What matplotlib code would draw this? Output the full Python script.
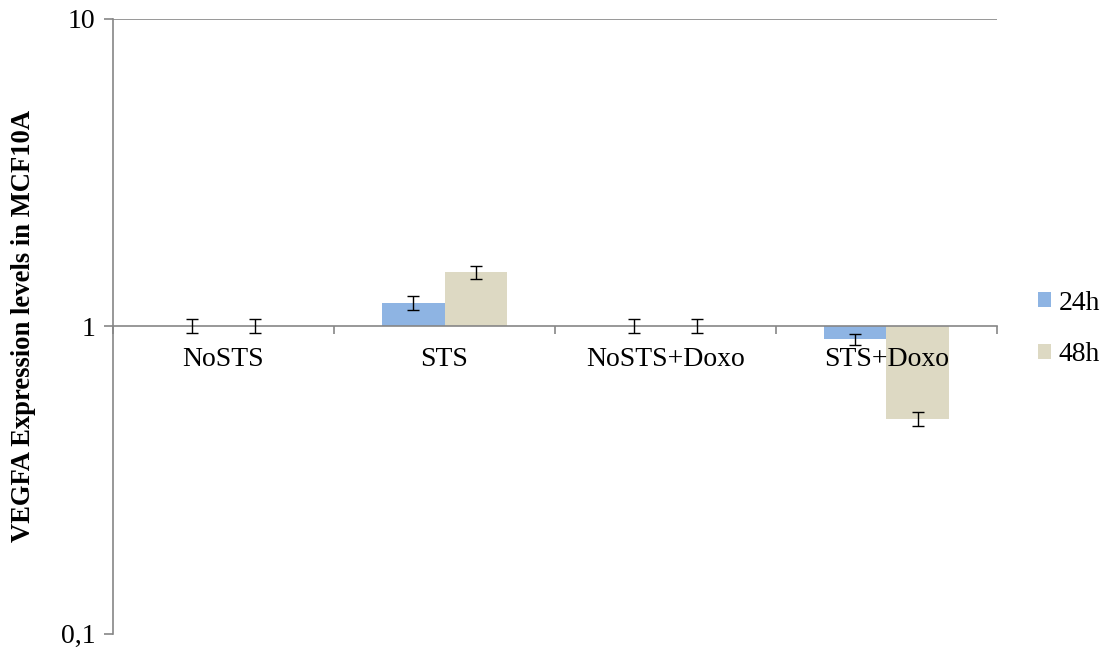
import matplotlib
matplotlib.use("Agg")
import matplotlib.pyplot as plt
from matplotlib.patches import Patch
from matplotlib.ticker import FixedLocator, FixedFormatter, NullFormatter
import numpy as np

# Expression data (fold change relative to control)
categories = ["NoSTS", "STS", "NoSTS+Doxo", "STS+Doxo"]
series_names = ["24h", "48h"]
values_24h = [1.0, 1.19, 1.0, 0.905]
values_48h = [1.0, 1.495, 1.0, 0.499]
err_24h = [0.05, 0.06, 0.05, 0.04]
err_48h = [0.05, 0.075, 0.05, 0.025]
y_ticks = [0.1, 1, 10]
y_tick_labels = ["0,1", "1", "10"]

colors = ["#8EB4E3", "#DDD9C3"]
axis_gray = "#868686"

plt.rcParams["font.family"] = ["Liberation Serif", "DejaVu Serif"]
FS = 20

W, H = 1110, 652
fig = plt.figure(figsize=(W / 100, H / 100), dpi=100)
ax = fig.add_axes([113 / W, 1 - 633.5 / H, (997 - 113) / W, (633.5 - 18.5) / H])
ax.set_axisbelow(False)

ax.set_yscale("log")
ax.set_ylim(0.1, 10)
ax.set_xlim(-0.5, len(categories) - 0.5)

x = np.arange(len(categories))
bw = 0.283
for vals, errs, col, off in [(values_24h, err_24h, colors[0], -bw / 2),
                             (values_48h, err_48h, colors[1], bw / 2)]:
    v = np.array(vals)
    ax.bar(x + off, v - 1, bottom=1, width=bw, color=col, edgecolor="none", zorder=2)
    ax.errorbar(x + off, v, yerr=errs, fmt="none", ecolor="black",
                elinewidth=1.0, capsize=4.6, capthick=1.0, zorder=3)

# gridline at the top decade
ax.axhline(10, color=axis_gray, lw=1.2, zorder=1)

# spines: left axis and category axis crossing at 1
for s in ["top", "right"]:
    ax.spines[s].set_visible(False)
ax.spines["left"].set_color(axis_gray)
ax.spines["left"].set_linewidth(1.2)
ax.spines["bottom"].set_position(("data", 1))
ax.spines["bottom"].set_color(axis_gray)
ax.spines["bottom"].set_linewidth(1.2)

ax.yaxis.set_major_locator(FixedLocator(y_ticks))
ax.yaxis.set_major_formatter(FixedFormatter(y_tick_labels))
ax.yaxis.set_minor_formatter(NullFormatter())
ax.yaxis.set_minor_locator(FixedLocator([]))
ax.tick_params(axis="y", which="major", direction="out", length=6.5, width=1.2,
               color=axis_gray, labelsize=FS, pad=6)

ax.set_xticks(x)
ax.set_xticklabels(categories)
ax.set_xticks(np.arange(len(categories) + 1) - 0.5, minor=True)
ax.tick_params(axis="x", which="major", length=0, labelsize=FS, pad=15)
ax.tick_params(axis="x", which="minor", direction="out", length=6, width=1.2,
               color=axis_gray)

ax.set_ylabel("VEGFA Expression levels in MCF10A", fontsize=19.2, fontweight="bold",
              labelpad=18)

handles = [Patch(facecolor=c, edgecolor="none") for c in colors]
fig.legend(handles, series_names, loc="center left", bbox_to_anchor=(1027 / W, 1 - 329 / H),
           frameon=False, fontsize=FS, handlelength=0.45, handleheight=0.45,
           handletextpad=0.3, labelspacing=0.95, borderaxespad=0)

fig.savefig("out.png", dpi=100)
